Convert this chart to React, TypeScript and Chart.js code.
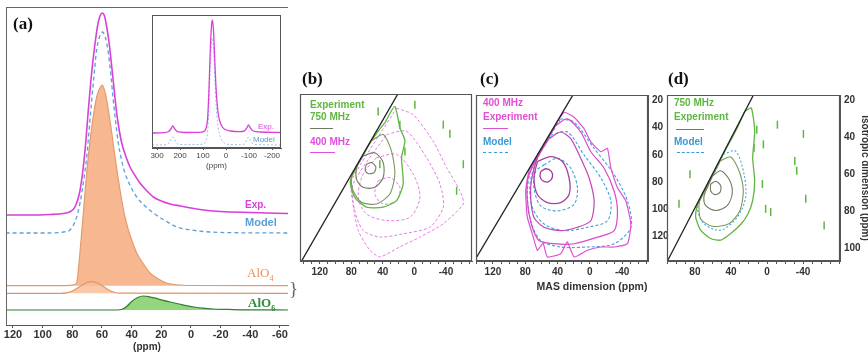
import React, { useEffect, useRef } from 'react';
import { Chart, registerables } from 'chart.js';

Chart.register(...registerables);

type P = [number, number];

// ---------------- Panel (a): 1D spectra (ppm vs stacked intensity) ----------------
const aTicks = [120, 100, 80, 60, 40, 20, 0, -20, -40, -60];

const expPpm = [125, 110, 95, 86, 82, 78.2, 75, 72.6, 70.8, 69.2, 67.5, 65.8, 64, 62.5, 61, 59.8, 58.3, 56.8, 55, 53.4, 51.7, 50.1, 48.4, 46.7, 44, 41.1, 37.5, 34.4, 30, 25.4, 20, 14, 7, 0, -6, -20, -40, -66];
const expVal = [110, 110, 110.5, 111.5, 113, 118, 133, 158, 185, 215, 244, 268, 289, 303, 310, 312, 309, 298, 280, 258, 234, 212, 195, 182, 169, 158, 149, 142, 134.5, 128, 124, 121, 119, 117, 115.5, 113.5, 112.5, 111.5];

const modelPpm = [125, 100, 88, 84, 81.6, 78, 74.8, 72.5, 70.3, 68.6, 66.9, 65.2, 63.6, 61.7, 59.8, 57.8, 55.7, 54, 52.4, 50.7, 49, 46.8, 44.5, 40.5, 36.6, 31, 25.4, 17, 9.6, 0, -12.8, -30, -66];
const modelVal = [92, 92, 92.5, 93.5, 95, 104, 122, 143, 168, 196, 225, 252, 275, 288, 293, 288, 272, 250, 225, 202, 182, 165, 152, 138, 128, 119, 112, 104, 98, 95, 93, 92.3, 92];

const alo4Ppm = [125, 85, 80, 77.1, 75.5, 73.7, 72, 70.3, 68.6, 66.9, 65.2, 63.6, 61.7, 59.8, 57.8, 55.7, 53.4, 51.2, 49, 46.7, 44.5, 42.2, 39.5, 36.6, 32, 27.6, 22, 16.4, 8, 2.9, -66];
const alo4Val = [39.3, 39.3, 40, 42, 62, 92, 122, 152, 177, 198, 215, 228, 236, 240, 232, 215, 192, 168, 146, 125, 108, 95, 83, 72, 61, 52, 46, 42, 40, 39.5, 39.3];
const alo4Base = 39.3;

const alo4bPpm = [125, 88, 84, 80, 76, 72, 68, 64, 60, 56, 52, 48, -66];
const alo4bVal = [31.7, 31.7, 32.2, 34, 37.5, 41, 43.3, 42.5, 39.5, 35.5, 32.7, 31.8, 31.7];
const alo4bBase = 31.7;

const alo6Ppm = [125, 50, 46, 43, 40, 36, 32, 28, 24, 20, 14, 8, 3, -2, -8, -15, -25, -35, -66];
const alo6Val = [15, 15, 16, 19, 23.5, 27.5, 29, 28.2, 26.8, 25.2, 23, 21, 19.3, 18, 16.8, 16, 15.6, 15.2, 15];
const alo6Base = 15;

// ---------------- Inset: full spectrum with spinning sidebands ----------------
const insetTicks = [300, 200, 100, 0, -100, -200];
const insetPpm = [322, 270, 250, 240, 232, 224, 212, 180, 130, 100, 88, 80, 74, 69, 64, 60, 56, 52, 48, 44, 40, 34, 26, 16, 4, -20, -60, -80, -90, -98, -106, -118, -150, -239];
const insetExp = [15, 15.3, 16.5, 19, 22, 19.5, 16.3, 15.5, 15.6, 16.2, 19, 30, 60, 95, 120, 128, 122, 105, 82, 62, 48, 34, 26, 21, 18.5, 17, 16.4, 17.2, 20, 23, 20, 17, 16, 15.5];
const insetModel = [3, 3.2, 4.5, 8, 11, 8.5, 4.3, 3.4, 3.4, 4, 7, 16, 45, 82, 104, 110, 104, 88, 66, 46, 33, 20, 12, 7, 4.5, 3.5, 3.3, 4, 7.5, 11, 7.5, 4, 3.3, 3];

// ---------------- 2D panels: ticks ----------------
const bcTicks = [140, 130, 120, 110, 100, 90, 80, 70, 60, 50, 40, 30, 20, 10, 0, -10, -20, -30, -40, -50, -60, -70];
const bcLabels = [120, 80, 40, 0, -40];
const dTicks = [110, 100, 90, 80, 70, 60, 50, 40, 30, 20, 10, 0, -10, -20, -30, -40, -50, -60, -70, -80];
const dLabels = [80, 40, 0, -40];
const cYTicks = [20, 30, 40, 50, 60, 70, 80, 90, 100, 110, 120, 130];
const cYLabels = [20, 40, 60, 80, 100, 120];
const dYTicks = [20, 30, 40, 50, 60, 70, 80, 90, 100];
const dYLabels = [20, 40, 60, 80, 100];

// diagonal (isotropic = MAS line)
const bcDiag: P[] = [[150, 145], [10, 5]];
const dDiag: P[] = [[115, 111.2], [10, 12.2]];

// ---------------- Panel (b): 750 MHz (green) and 400 MHz (magenta) contours ----------------
const bGreen1: P[] = [[60.7, 67.3], [54.4, 66.1], [48.9, 69.3], [51.4, 73.4], [58.6, 74.1], [62.4, 71.2]];
const bGreen2: P[] = [[65, 61.3], [50.2, 58.9], [39.6, 66.1], [39.6, 77], [50.2, 84.2], [65, 84.2], [73.4, 78.2], [72.6, 68.6]];
const bGreen3: P[] = [[55, 50.4], [39.6, 45.6], [29, 57.7], [24.8, 74.6], [31.1, 89.1], [48.1, 96.3], [67.1, 95.1], [77.7, 86.7], [79.8, 77], [68, 64]];
const bGreen4: P[] = [[37.5, 37.1], [24.8, 25.1], [18.4, 40.8], [12, 50], [16.3, 62.5], [14.2, 81.8], [22.6, 93.9], [39.6, 98.7], [60.7, 98.7], [75.6, 91.5], [81.1, 79.4], [60.7, 56], [45.9, 43.2]];
const bMag1: P[] = [[45.9, 79.4], [31.1, 77], [18.4, 84.2], [22.6, 93.9], [39.6, 96.3], [50.2, 89.1]];
const bMag2: P[] = [[48.1, 62.5], [22.6, 60.1], [1.5, 74.6], [-7, 91.5], [5.7, 106], [35.4, 108.4], [60.7, 103.6], [71.3, 91.5], [65, 74.6]];
const bMag3: P[] = [[35.4, 45.6], [10, 43.2], [-15.4, 62.5], [-32.4, 81.8], [-36.6, 98.7], [-19.7, 113.2], [14.2, 118.1], [43.8, 120.5], [65, 115.7], [75.6, 101.2], [77.7, 81.8]];
const bMag4: P[] = [[22.6, 26.3], [1.5, 31.1], [-23.9, 50.4], [-40.8, 69.8], [-57.8, 86.7], [-62, 96.3], [-36.6, 110.8], [-7, 120.5], [18.4, 127.7], [43.8, 135], [56.5, 130.1], [71.3, 115.7], [78.5, 93.9], [79.8, 79.4]];
const bNoise: P[] = [[46, 28.7], [-36.6, 38.4], [-62, 67.3], [-53.5, 86.7], [-0.6, 23.9], [43.8, 67.3], [18.4, 38.4], [12, 58], [-45, 45]];

// ---------------- Panel (c): 400 MHz experiment (magenta) and model (blue dashed) ----------------
const cExp1: P[] = [[60.9, 72.2], [54.7, 70.2], [47.7, 72.2], [46.4, 76.5], [51.8, 79.9], [58.8, 78.9], [61.7, 75.8]];
const cExp2: P[] = [[65, 64.9], [48.5, 61.3], [34, 64.9], [25.7, 77], [25.7, 89.1], [36.1, 95.1], [52.6, 95.1], [65, 89.1], [69.2, 77]];
const cExp3: P[] = [[50.5, 48], [36.1, 43.2], [23.7, 48], [11.3, 62.5], [0.9, 77], [-5.3, 93.9], [-1.2, 108.4], [15.4, 113.2], [36.1, 115.7], [56.8, 113.2], [69.2, 106], [73.3, 91.5], [72.5, 79.4], [65, 62.5]];
const cExp4: P[] = [[42.3, 38.4], [27.8, 33.5], [11.3, 43.2], [-1.2, 57.7], [-17.7, 69.8], [-30.1, 86.7], [-34.2, 101.2], [-30.1, 115.7], [-9.4, 120.5], [19.5, 125.3], [44.3, 125.3], [63, 122.9], [72.5, 110.8], [77.4, 93.9], [76.6, 77], [60.9, 57]];
const cExp5: P[] = [[38, 33.5], [31.9, 28.7], [19.5, 32.3], [7.1, 40.8], [-1.2, 50.4], [-13.6, 57.7], [-21.8, 55.3], [-26, 69.8], [-34.2, 84.2], [-44.6, 93.9], [-50.8, 110.8], [-46.6, 125.3], [-30.1, 127.7], [-13.6, 127.7], [3, 130.1], [19.5, 135], [28, 124], [36.1, 132.6], [52.6, 135], [58, 125], [65, 130.1], [71.2, 118.1], [77.4, 106], [79.5, 86.7], [75.4, 72.2], [60.9, 56.5], [45, 40.8]];
const cModel1: P[] = [[56.8, 67.3], [40.2, 62.5], [23.7, 69.8], [15.4, 84.2], [19.5, 96.3], [40.2, 101.2], [60.9, 97.5], [69.2, 84.2], [67.1, 72.2]];
const cModel2: P[] = [[48.5, 45.6], [27.8, 43.2], [7.1, 60.1], [-13.6, 77], [-26, 93.9], [-21.8, 108.4], [3, 113.2], [31.9, 115.7], [56.8, 110.8], [71.2, 98.7], [74.1, 81.8], [65, 62.5]];
const cModel3: P[] = [[36.1, 33.5], [19.5, 36], [-5.3, 55.3], [-30.1, 74.6], [-46.6, 93.9], [-50.8, 113.2], [-30.1, 125.3], [3, 127.7], [36.1, 127.7], [60.9, 122.9], [73.3, 108.4], [77.4, 86.7], [71.2, 67.3], [49, 45.6]];

// ---------------- Panel (d): 750 MHz experiment (green) and model (blue dashed) ----------------
const dExp1: P[] = [[62.6, 65.3], [57, 63.8], [51.4, 66.2], [52.2, 69.8], [58.1, 71], [62.6, 68.9]];
const dExp2: P[] = [[60.7, 61], [51.4, 58.1], [42.2, 62.6], [38.5, 69.8], [44, 76.9], [57, 79.6], [68, 77], [70, 72], [66, 67]];
const dExp3: P[] = [[52.2, 52.8], [40.3, 50.6], [31.1, 58.1], [26.3, 68.9], [30, 79.6], [42.2, 86.8], [60.7, 88.2], [73.7, 84.1], [75.1, 75.1], [66.3, 65.6], [58.1, 58.5]];
const dExp4: P[] = [[24.8, 25.9], [17.4, 24.1], [13.7, 36.6], [15.9, 51], [13.7, 63.5], [15.9, 74.2], [21.1, 81.4], [28.5, 86.8], [40.3, 92.1], [51.4, 95.7], [62.6, 94.8], [73.7, 90.3], [79.2, 83.2], [77.4, 76.9], [73.7, 73.3], [63.3, 63.5], [49.6, 50.1], [32.2, 34]];
const dModel: P[] = [[48.5, 49.2], [34.8, 47.4], [25.5, 59.9], [23.7, 72.4], [32.9, 83.2], [51.4, 90.3], [70, 86.8], [77.4, 77.8], [71.8, 70.6], [58.1, 59]];
const dNoise: P[] = [[11.4, 35.8], [4, 43.8], [-40.4, 38.1], [-30.8, 52.8], [-33, 58.1], [85.5, 60], [5.1, 65.3], [-4.1, 80.5], [1.5, 78.7], [-43, 73.3], [-63.4, 87.7], [97.7, 76], [14.4, 45.6], [-11.5, 33.1]];

// ---------------- styling ----------------
const SANS = "'Liberation Sans', Arial, sans-serif";
const SERIF = "'Liberation Serif', 'Times New Roman', serif";
const EXP = '#d93fd9';
const MODEL = '#5b9fd6';
const GREEN = '#5fb641';
const OLIVE = '#6f7c62';
const MAG = '#e04fd6';

const zip = (xs: number[], ys: number[]) => xs.map((x, i) => ({ x, y: ys[i] }));
const pts = (p: P[]) => p.map(([x, y]) => ({ x, y }));
const loop = (p: P[]) => pts([...p, p[0]]);

const framePlugin = (sides: string, color: string, width = 1, bg?: string) => ({
  id: 'frame_' + sides,
  beforeDraw(chart: any) {
    if (!bg) return;
    const { ctx, chartArea: a } = chart;
    ctx.save();
    ctx.fillStyle = bg;
    ctx.fillRect(a.left, a.top, a.right - a.left, a.bottom - a.top);
    ctx.restore();
  },
  afterDatasetsDraw(chart: any) {
    const { ctx, chartArea: a } = chart;
    ctx.save();
    ctx.strokeStyle = color;
    ctx.lineWidth = width;
    ctx.beginPath();
    if (sides.includes('l')) { ctx.moveTo(a.left + 0.5, a.top); ctx.lineTo(a.left + 0.5, a.bottom); }
    if (sides.includes('t')) { ctx.moveTo(a.left, a.top + 0.5); ctx.lineTo(a.right, a.top + 0.5); }
    if (sides.includes('r')) { ctx.moveTo(a.right - 0.5, a.top); ctx.lineTo(a.right - 0.5, a.bottom); }
    if (sides.includes('b')) { ctx.moveTo(a.left, a.bottom - 0.5); ctx.lineTo(a.right, a.bottom - 0.5); }
    ctx.stroke();
    ctx.restore();
  },
});

const specLine = (data: any[], color: string, width: number, extra: any = {}) => ({
  data,
  borderColor: color,
  borderWidth: width,
  pointRadius: 0,
  fill: false,
  cubicInterpolationMode: 'monotone',
  ...extra,
});

const contour = (p: P[], color: string, width: number, dash: number[] = [], tension = 0.3) => ({
  data: loop(p),
  showLine: true,
  borderColor: color,
  borderWidth: width,
  borderDash: dash,
  pointRadius: 0,
  fill: false,
  tension,
});

const diagSet = (p: P[]) => ({
  data: pts(p),
  showLine: true,
  borderColor: '#222',
  borderWidth: 1.3,
  pointRadius: 0,
  fill: false,
});

const noiseSet = (p: P[]) => ({
  data: pts(p),
  showLine: false,
  pointStyle: 'line',
  rotation: 90,
  pointRadius: 4,
  borderColor: GREEN,
  borderWidth: 1.5,
});

const tickFont = { family: SANS, size: 10, weight: 'bold' as const };

const xAxis2D = (min: number, max: number, ticks: number[], labels: number[]) => ({
  type: 'linear',
  min,
  max,
  reverse: true,
  afterBuildTicks: (s: any) => { s.ticks = ticks.map((v) => ({ value: v })); },
  afterFit: (s: any) => { s.height = 29; },
  ticks: {
    autoSkip: false,
    maxRotation: 0,
    padding: 2,
    font: tickFont,
    color: '#333',
    callback: (v: number) => (labels.includes(v) ? String(v) : ''),
  },
  grid: { display: true, drawOnChartArea: false, drawTicks: true, tickLength: 3, color: '#555' },
  border: { display: true, color: '#555' },
});

const yAxis2D = (min: number, max: number, ticks: number[] | null, labels: number[], width: number, title?: string) => {
  if (!ticks) return { display: false, min, max, reverse: true };
  return {
    type: 'linear',
    position: 'right',
    min,
    max,
    reverse: true,
    afterBuildTicks: (s: any) => { s.ticks = ticks.map((v) => ({ value: v })); },
    afterFit: (s: any) => { s.width = width; },
    ticks: {
      autoSkip: false,
      padding: 4,
      font: tickFont,
      color: '#333',
      callback: (v: number) => (labels.includes(v) ? String(v) : ''),
    },
    grid: { display: false, drawOnChartArea: false, drawTicks: false },
    border: { display: true, color: '#555' },
    title: title
      ? { display: true, text: title, font: { family: SANS, size: 10, weight: 'bold' }, color: '#333', padding: { top: -3, bottom: 0 } }
      : { display: false },
  };
};

const baseOpts = (padding: any) => ({
  responsive: false,
  animation: false,
  events: [],
  layout: { padding },
  plugins: { legend: { display: false }, tooltip: { enabled: false } },
});

const cfgA = () => ({
  type: 'line',
  data: {
    datasets: [
      specLine(zip(expPpm, expVal), EXP, 1.6, { order: 1 }),
      specLine(zip(modelPpm, modelVal), MODEL, 1.3, { order: 2, borderDash: [4, 3] }),
      specLine(zip(alo6Ppm, alo6Val), '#2f7f34', 1.2, { order: 3, fill: { value: alo6Base }, backgroundColor: 'rgba(132,206,104,0.85)' }),
      specLine(zip(alo4bPpm, alo4bVal), '#e39466', 1.2, { order: 4, fill: { value: alo4bBase }, backgroundColor: 'rgba(247,190,154,0.85)' }),
      specLine(zip(alo4Ppm, alo4Val), '#e59a6e', 1.2, { order: 5, fill: { value: alo4Base }, backgroundColor: '#f7b891' }),
    ],
  },
  options: {
    ...baseOpts({ left: 6, right: 12, top: 7, bottom: 0 }),
    scales: {
      x: {
        type: 'linear',
        min: -65.4,
        max: 124.7,
        reverse: true,
        afterBuildTicks: (s: any) => { s.ticks = aTicks.map((v) => ({ value: v })); },
        afterFit: (s: any) => { s.height = 33; },
        ticks: { autoSkip: false, maxRotation: 0, padding: 0, font: { family: SANS, size: 11, weight: 'bold' }, color: '#333' },
        grid: { display: true, drawOnChartArea: false, drawTicks: true, tickLength: 3, color: '#555' },
        border: { display: true, color: '#555' },
        title: { display: true, text: '(ppm)', font: { family: SANS, size: 10, weight: 'bold' }, color: '#333', padding: { top: 0, bottom: 5 } },
      },
      y: { display: false, min: 0, max: 318 },
    },
  },
  plugins: [framePlugin('lt', '#666', 1)],
});

const cfgInset = () => ({
  type: 'line',
  data: {
    datasets: [
      specLine(zip(insetPpm, insetExp), EXP, 1.3, { order: 1 }),
      specLine(zip(insetPpm, insetModel), 'rgba(110,165,215,0.7)', 1, { order: 2, borderDash: [2, 2] }),
    ],
  },
  options: {
    ...baseOpts({ left: 12, right: 9, top: 15, bottom: 0 }),
    scales: {
      x: {
        type: 'linear',
        min: -239,
        max: 322,
        reverse: true,
        afterBuildTicks: (s: any) => { s.ticks = insetTicks.map((v) => ({ value: v })); },
        afterFit: (s: any) => { s.height = 27; },
        ticks: { autoSkip: false, maxRotation: 0, padding: 1, font: { family: SANS, size: 8 }, color: '#444' },
        grid: { display: true, drawOnChartArea: false, drawTicks: true, tickLength: 2, color: '#555' },
        border: { display: true, color: '#555' },
        title: { display: true, text: '(ppm)', font: { family: SANS, size: 8 }, color: '#444', padding: { top: 0, bottom: 4 } },
      },
      y: { display: false, min: 0, max: 133 },
    },
  },
  plugins: [framePlugin('ltrb', '#555', 1, '#ffffff')],
});

const cfgB = () => ({
  type: 'scatter',
  data: {
    datasets: [
      diagSet(bcDiag),
      contour(bGreen1, OLIVE, 1.1),
      contour(bGreen2, OLIVE, 1.1),
      contour(bGreen3, '#7a9a5a', 1.1, [], 0.25),
      contour(bGreen4, GREEN, 1.3, [], 0.2),
      contour(bMag1, '#e27ee2', 1, [3, 2]),
      contour(bMag2, '#e27ee2', 1, [3, 2]),
      contour(bMag3, '#e27ee2', 1, [3, 2], 0.25),
      contour(bMag4, '#e27ee2', 1, [3, 2], 0.2),
      noiseSet(bNoise),
    ],
  },
  options: {
    ...baseOpts({ left: 10, right: 8, top: 9, bottom: 0 }),
    scales: { x: xAxis2D(-73, 145, bcTicks, bcLabels), y: yAxis2D(16, 138, null, [], 0) },
  },
  plugins: [framePlugin('ltrb', '#555', 1.2)],
});

const cfgC = () => ({
  type: 'scatter',
  data: {
    datasets: [
      diagSet(bcDiag),
      contour(cExp1, '#9a3c98', 1.3),
      contour(cExp2, '#a8409f', 1.3),
      contour(cExp3, '#c443b8', 1.2, [], 0.25),
      contour(cExp4, '#d849cc', 1.2, [], 0.25),
      contour(cExp5, MAG, 1.2, [], 0.15),
      contour(cModel1, '#3fa3d6', 1.1, [3, 2]),
      contour(cModel2, '#3fa3d6', 1.1, [3, 2]),
      contour(cModel3, '#3fa3d6', 1.1, [3, 2]),
    ],
  },
  options: {
    ...baseOpts({ left: 6, right: 0, top: 8, bottom: 0 }),
    scales: { x: xAxis2D(-72, 141, bcTicks, bcLabels), y: yAxis2D(16, 138, cYTicks, cYLabels, 22) },
  },
  plugins: [framePlugin('ltrb', '#555', 1.2)],
});

const cfgD = () => ({
  type: 'scatter',
  data: {
    datasets: [
      diagSet(dDiag),
      contour(dExp1, OLIVE, 1.1),
      contour(dExp2, OLIVE, 1.1),
      contour(dExp3, '#7a9a5a', 1.1, [], 0.25),
      contour(dExp4, GREEN, 1.3, [], 0.2),
      contour(dModel, '#4aa3e0', 1.1, [2, 2]),
      noiseSet(dNoise),
    ],
  },
  options: {
    ...baseOpts({ left: 7, right: 0, top: 8, bottom: 0 }),
    scales: {
      x: xAxis2D(-81, 111, dTicks, dLabels),
      y: yAxis2D(17, 107, dYTicks, dYLabels, 28, 'Isotropic dimension (ppm)'),
    },
  },
  plugins: [framePlugin('ltrb', '#555', 1.2)],
});

function ChartBox({ left, top, width, height, make }: { left: number; top: number; width: number; height: number; make: () => any }) {
  const ref = useRef<HTMLCanvasElement>(null);
  useEffect(() => {
    const chart = new Chart(ref.current as HTMLCanvasElement, make());
    return () => chart.destroy();
  }, []);
  return (
    <canvas
      ref={ref}
      width={width}
      height={height}
      style={{ position: 'absolute', left, top, width, height, display: 'block' }}
    />
  );
}

function Txt({ x, y, size, color = '#111', bold = true, serif = false, children, style = {} }: any) {
  return (
    <div
      style={{
        position: 'absolute',
        left: x,
        top: y,
        fontSize: size,
        lineHeight: 1,
        color,
        fontWeight: bold ? 700 : 400,
        fontFamily: serif ? SERIF : SANS,
        whiteSpace: 'nowrap',
        ...style,
      }}
    >
      {children}
    </div>
  );
}

function LegLine({ x, y, w, color, dashed = false }: any) {
  return (
    <div
      style={{
        position: 'absolute',
        left: x,
        top: y,
        width: w,
        height: 0,
        borderTop: `1px ${dashed ? 'dashed' : 'solid'} ${color}`,
      }}
    />
  );
}

export default function App() {
  return (
    <div style={{ position: 'fixed', left: 0, top: 0, width: 868, height: 358, background: '#fff', overflow: 'hidden' }}>
      <ChartBox left={0} top={0} width={300} height={358} make={cfgA} />
      <ChartBox left={140} top={0} width={150} height={175} make={cfgInset} />
      <ChartBox left={290} top={85} width={190} height={205} make={cfgB} />
      <ChartBox left={470} top={85} width={200} height={205} make={cfgC} />
      <ChartBox left={660} top={85} width={208} height={205} make={cfgD} />

      {/* panel letters */}
      <Txt x={13} y={15} size={17} serif>(a)</Txt>
      <Txt x={302} y={70} size={17} serif>(b)</Txt>
      <Txt x={480} y={70} size={17} serif>(c)</Txt>
      <Txt x={668} y={70} size={17} serif>(d)</Txt>

      {/* panel (a) labels */}
      <Txt x={245} y={200} size={10} color={EXP}>Exp.</Txt>
      <Txt x={245} y={217} size={11} color={MODEL}>Model</Txt>
      <Txt x={247} y={266} size={13} color="#e8915a" bold={false} serif>
        AlO<sub style={{ fontSize: 8 }}>4</sub>
      </Txt>
      <Txt x={248} y={296} size={13} color="#2e8b3a" serif>
        AlO<sub style={{ fontSize: 8 }}>6</sub>
      </Txt>
      <Txt x={289} y={279} size={19} color="#666" bold={false} serif>{'}'}</Txt>

      {/* inset labels */}
      <Txt x={258} y={123} size={8} color={EXP} bold={false}>Exp.</Txt>
      <Txt x={253} y={136} size={8} color={MODEL} bold={false}>Model</Txt>

      {/* legend (b) */}
      <Txt x={310} y={100} size={10} color={GREEN}>Experiment</Txt>
      <Txt x={310} y={112} size={10} color={GREEN}>750 MHz</Txt>
      <LegLine x={310} y={128} w={23} color={OLIVE} />
      <Txt x={310} y={137} size={10} color="#e050e0">400 MHz</Txt>
      <LegLine x={310} y={152} w={25} color="#e050e0" />

      {/* legend (c) */}
      <Txt x={483} y={98} size={10} color={MAG}>400 MHz</Txt>
      <Txt x={483} y={112} size={10} color={MAG}>Experiment</Txt>
      <LegLine x={483} y={128} w={25} color={MAG} />
      <Txt x={483} y={137} size={10} color="#3a9ad0">Model</Txt>
      <LegLine x={483} y={152} w={25} color="#3a9ad0" dashed />

      {/* legend (d) */}
      <Txt x={674} y={98} size={10} color={GREEN}>750 MHz</Txt>
      <Txt x={674} y={112} size={10} color={GREEN}>Experiment</Txt>
      <LegLine x={676} y={129} w={28} color={OLIVE} />
      <Txt x={674} y={137} size={10} color="#3a9ad0">Model</Txt>
      <LegLine x={677} y={152} w={27} color="#3a9ad0" dashed />

      {/* shared axis title */}
      <Txt x={592} y={281} size={10.5} color="#333" style={{ transform: 'translateX(-50%)' }}>MAS dimension (ppm)</Txt>
    </div>
  );
}
